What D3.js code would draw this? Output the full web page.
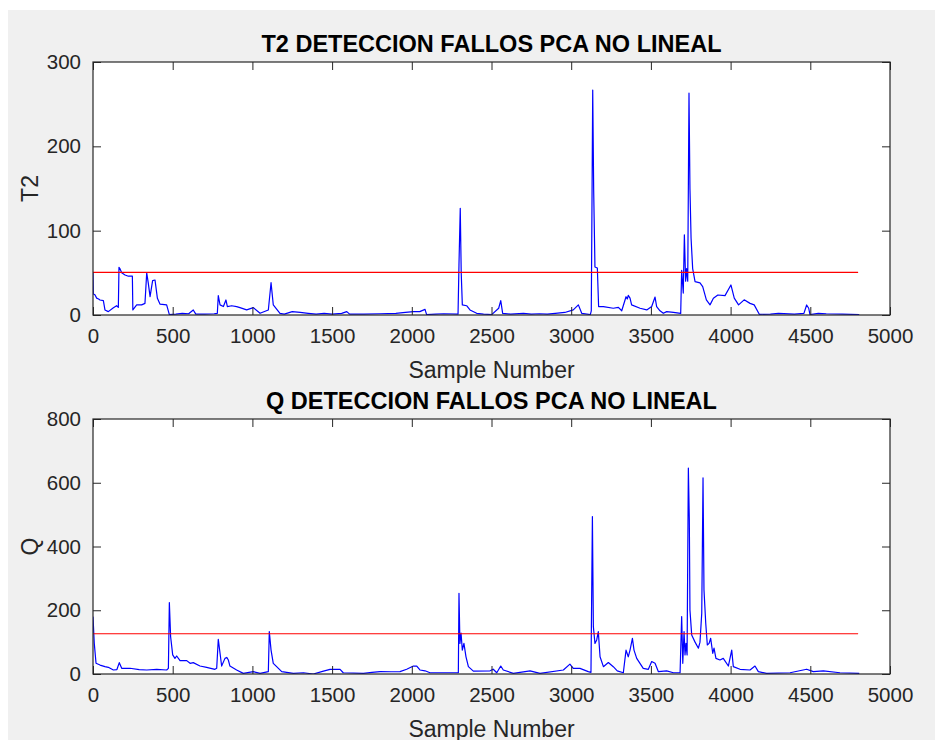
<!DOCTYPE html>
<html>
<head>
<meta charset="utf-8">
<script src="https://cdn.jsdelivr.net/npm/d3@7"></script>
<style>
  html, body { margin: 0; padding: 0; background: #ffffff; }
  svg { display: block; }
  text { font-family: "Liberation Sans", Arial, Helvetica, sans-serif; }
</style>
</head>
<body>
<svg id="chart" width="935" height="740"></svg>
<script>
// ---------- DATA ----------
const t2Samples = [0,2,12,23,35,44,65,75,96,128,148,159,163,169,180,201,222,247,250,274,305,326,337,347,358,374,389,404,420,462,479,520,560,600,629,645,700,760,780,786,797,818,834,843,870,901,922,964,1006,1048,1100,1117,1131,1173,1200,1250,1300,1350,1400,1450,1500,1560,1592,1610,1700,1800,1900,1960,2010,2050,2083,2093,2150,2200,2290,2296,2304,2310,2317,2344,2365,2407,2450,2501,2545,2558,2570,2620,2700,2750,2800,2850,2900,2960,3013,3045,3066,3120,3126,3135,3141,3149,3164,3172,3202,3264,3296,3317,3344,3352,3358,3369,3379,3432,3474,3505,3526,3536,3557,3578,3599,3641,3687,3693,3703,3710,3718,3724,3731,3739,3745,3752,3762,3777,3808,3825,3848,3871,3892,3920,3965,4002,4023,4050,4085,4122,4148,4180,4250,4300,4400,4460,4477,4490,4498,4550,4600,4700,4807];
const t2Values  = [50,25,24,20,19,17.8,17,6,4,8.7,11,9,56.5,55,50,47.4,46,46,6,12,12,13.8,50,37.5,21.7,40.7,41.5,19.8,13,12,0.5,1,2,1.5,6,1,1,1.5,2,23,12,10,17.8,10,11,10,8.7,6,8.7,2,6,38.3,12,2,1,4,3,2,1,2,1,2,4,1,1,1.5,2,3,4,4,6.7,0.5,1,1.5,1,60,126.5,50,12,11,6,2,1,0.5,8,17,2,1,2,1,1.5,1,2,3,6,12,2,0.5,5,266.8,148,57,55.7,10,10,8,9,5,21.7,19,23.3,20,12,8,6,10,21.3,10,5,2,4,3,2,53,26,95,40,55,40,263,150,91,55,39.5,38,33.6,18,12,19.8,23.7,23,35.6,20,12,18,13.8,12,0.8,1,2,1,2,11.9,8,0.5,2,1.5,1,0.5];

const qSamples = [0,8,19,44,75,96,128,150,165,180,232,290,337,400,462,473,479,487,500,514,525,546,588,609,629,671,713,765,776,786,797,807,828,839,849,859,901,943,1006,1048,1100,1106,1117,1131,1152,1184,1257,1320,1382,1440,1487,1550,1570,1696,1750,1801,1870,1926,1968,2010,2031,2051,2083,2114,2200,2292,2296,2302,2309,2317,2327,2340,2355,2386,2491,2511,2533,2558,2574,2637,2742,2804,2951,2992,3013,3055,3107,3124,3133,3139,3149,3160,3170,3181,3202,3233,3264,3289,3327,3344,3358,3369,3384,3394,3411,3452,3484,3505,3526,3547,3599,3641,3683,3693,3700,3708,3714,3720,3727,3735,3741,3745,3756,3777,3798,3808,3819,3827,3833,3844,3854,3865,3875,3888,3896,3908,3933,3954,3986,4007,4017,4059,4122,4153,4174,4226,4373,4477,4519,4582,4686,4807];
const qValues  = [180,96,33.5,28,23,21,12.6,14,35.6,17.8,18,14,12.6,14.7,12.6,17.8,224,117,60,49,56.5,42,42,33.5,35.6,25,21,14.7,17.8,109,65,25,49,52,44,25,12.6,2,7.3,2,7.3,133,75,33.5,23,7.3,2,4,0,8,14.7,14.7,4,2,5,7.3,7,7.3,15,25,25,12.6,10,4,4,4,253,96,128,75,96,54,23,9,10,15,4,25,12.6,2,10,2,12.6,31,17.8,17.8,7.3,5,494,149,96,107,133,54,23,36,23,10,4,75,54,75,112,75,49,17.8,14.7,39,33.5,7.3,10,4,4,180,33.5,133,60,96,60,646,484,201,122,100,81,100,191,615,264,159,91,96,112,65,81,49,44,49,25,75,23,14.7,12.6,25,7.3,2,4,15,7.3,10,4,2];

const t2Limit = 50.5;
const qLimit = 126.5;
const limitRange = [0, 4800];

const xTicks = [0,500,1000,1500,2000,2500,3000,3500,4000,4500,5000];
const t2Ticks = [0,100,200,300];
const qTicks = [0,200,400,600,800];

const panels = [
  { title: "T2 DETECCION FALLOS PCA NO LINEAL", ylabel: "T2", xs: t2Samples, ys: t2Values, limit: t2Limit, ymax: 300, yticks: t2Ticks, top: 62, bottom: 315 },
  { title: "Q DETECCION FALLOS PCA NO LINEAL", ylabel: "Q", xs: qSamples, ys: qValues, limit: qLimit, ymax: 800, yticks: qTicks, top: 419, bottom: 674 }
];

// ---------- DRAW ----------
const svg = d3.select("#chart");
svg.append("rect").attr("x", 8).attr("y", 10).attr("width", 927).attr("height", 730).attr("fill", "#f0f0f0");

const left = 93, right = 890, tickLen = 8;
const axisColor = "#262626";

panels.forEach(p => {
  const x = d3.scaleLinear().domain([0, 5000]).range([left, right]);
  const y = d3.scaleLinear().domain([0, p.ymax]).range([p.bottom, p.top]);
  const g = svg.append("g");

  g.append("rect").attr("x", left).attr("y", p.top).attr("width", right - left).attr("height", p.bottom - p.top).attr("fill", "#ffffff");

  const clipId = "clip" + p.ylabel;
  svg.append("clipPath").attr("id", clipId).append("rect")
    .attr("x", left).attr("y", p.top - 1).attr("width", right - left).attr("height", p.bottom - p.top + 1);

  const pts = p.xs.map((s, i) => [s, p.ys[i]]);
  const line = d3.line().x(d => x(d[0])).y(d => y(d[1]));
  g.append("path").datum(pts).attr("d", line).attr("fill", "none")
    .attr("stroke", "#0000ff").attr("stroke-width", 1.2).attr("stroke-linejoin", "round")
    .attr("clip-path", `url(#${clipId})`);

  g.append("path").datum(limitRange.map(s => [s, p.limit])).attr("d", line)
    .attr("fill", "none").attr("stroke", "#ff0000").attr("stroke-width", 1.1);

  const xAxis = d3.axisBottom(x).tickValues(xTicks).tickSizeInner(-tickLen).tickSizeOuter(0).tickPadding(13).tickFormat(d3.format("d"));
  const xg = g.append("g").attr("transform", `translate(0,${p.bottom})`).call(xAxis);
  const xAxisTop = d3.axisTop(x).tickValues(xTicks).tickSizeInner(-tickLen).tickSizeOuter(0).tickFormat("");
  const xgt = g.append("g").attr("transform", `translate(0,${p.top})`).call(xAxisTop);

  const yAxis = d3.axisLeft(y).tickValues(p.yticks).tickSizeInner(-tickLen).tickSizeOuter(0).tickPadding(12).tickFormat(d3.format("d"));
  const yg = g.append("g").attr("transform", `translate(${left},0)`).call(yAxis);
  const yAxisR = d3.axisRight(y).tickValues(p.yticks).tickSizeInner(-tickLen).tickSizeOuter(0).tickFormat("");
  const ygr = g.append("g").attr("transform", `translate(${right},0)`).call(yAxisR);

  [xg, xgt, yg, ygr].forEach(a => {
    a.select(".domain").remove();
    a.selectAll("line").attr("stroke", axisColor).attr("stroke-width", 1);
    a.selectAll("text").attr("fill", axisColor).style("font-size", "20.5px").style("font-family", "'Liberation Sans', Arial, sans-serif");
  });

  g.append("rect").attr("x", left).attr("y", p.top).attr("width", right - left).attr("height", p.bottom - p.top)
    .attr("fill", "none").attr("stroke", axisColor).attr("stroke-width", 1.2);

  g.append("text").attr("x", (left + right) / 2).attr("y", p.top - 10).attr("text-anchor", "middle")
    .style("font-size", "23.5px").style("font-weight", "bold").attr("fill", "#000").text(p.title);

  g.append("text").attr("x", (left + right) / 2).attr("y", p.bottom + 63).attr("text-anchor", "middle")
    .style("font-size", "23px").attr("fill", axisColor).text("Sample Number");

  g.append("text").attr("transform", `translate(38,${(p.top + p.bottom) / 2}) rotate(-90)`).attr("text-anchor", "middle")
    .style("font-size", "23px").attr("fill", axisColor).text(p.ylabel);
});
</script>
</body>
</html>
